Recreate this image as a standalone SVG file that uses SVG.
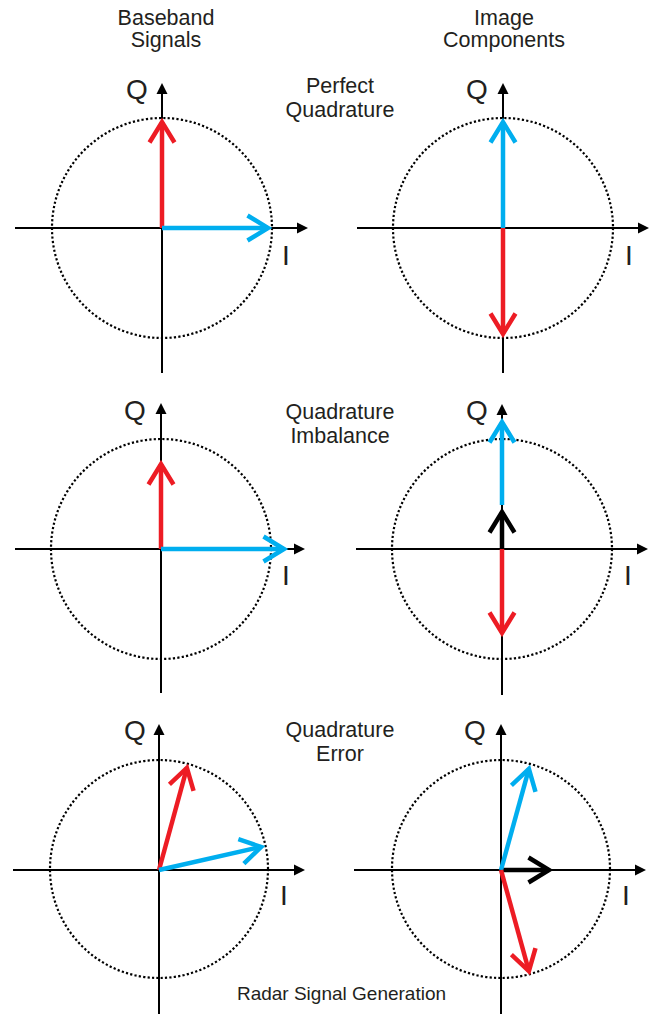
<svg xmlns="http://www.w3.org/2000/svg" width="657" height="1014" viewBox="0 0 657 1014">
<style>
text{font-family:"Liberation Sans",Arial,sans-serif;fill:#231f20}
.t{font-size:21.5px;text-anchor:middle}
.ax{font-size:28px}
.axis{stroke:#000;stroke-width:2;fill:none;marker-end:url(#axh)}
.circ{fill:none;stroke:#000;stroke-width:2.2;stroke-dasharray:2.2 2.2}
.vr{stroke:#ED1C24;stroke-width:4.5;fill:none;marker-end:url(#mr)}
.vb{stroke:#00AEEF;stroke-width:4.5;fill:none;marker-end:url(#mb)}
.vk{stroke:#000;stroke-width:4.5;fill:none;marker-end:url(#mk)}
</style>
<defs>
<marker id="axh" markerUnits="userSpaceOnUse" orient="auto" refX="3" refY="0" markerWidth="20" markerHeight="20" viewBox="-5 -10 20 20" overflow="visible"><path d="M0,-5.5 L11,0 L0,5.5 Z" fill="#000"/></marker>
<marker id="mr" markerUnits="userSpaceOnUse" orient="auto" refX="0" refY="0" markerWidth="40" markerHeight="40" viewBox="-30 -20 40 40" overflow="visible"><path d="M-20.5,-12.5 L0,0 L-20.5,12.5" fill="none" stroke="#ED1C24" stroke-width="4.5"/></marker>
<marker id="mb" markerUnits="userSpaceOnUse" orient="auto" refX="0" refY="0" markerWidth="40" markerHeight="40" viewBox="-30 -20 40 40" overflow="visible"><path d="M-20.5,-12.5 L0,0 L-20.5,12.5" fill="none" stroke="#00AEEF" stroke-width="4.5"/></marker>
<marker id="mk" markerUnits="userSpaceOnUse" orient="auto" refX="0" refY="0" markerWidth="40" markerHeight="40" viewBox="-30 -20 40 40" overflow="visible"><path d="M-20.5,-12.5 L0,0 L-20.5,12.5" fill="none" stroke="#000" stroke-width="4.5"/></marker>
</defs>

<g id="headers">
<text class="t" x="166" y="25">Baseband</text>
<text class="t" x="166" y="47">Signals</text>
<text class="t" x="504" y="25">Image</text>
<text class="t" x="504" y="47">Components</text>
<text class="t" x="340" y="93">Perfect</text>
<text class="t" x="340" y="117">Quadrature</text>
<text class="t" x="340" y="419">Quadrature</text>
<text class="t" x="340" y="443">Imbalance</text>
<text class="t" x="340" y="737">Quadrature</text>
<text class="t" x="340" y="761">Error</text>
<text x="341.5" y="1000" style="font-size:19px;text-anchor:middle">Radar Signal Generation</text>
</g>

<g id="panel1">
<circle class="circ" cx="162" cy="228" r="110"/>
<line class="axis" x1="15" y1="228" x2="300" y2="228"/>
<line class="axis" x1="162" y1="373" x2="162" y2="91"/>
<text class="ax" x="126" y="99">Q</text>
<text class="ax" x="282" y="265">I</text>
<line class="vr" x1="162" y1="228" x2="162" y2="122"/>
<line class="vb" x1="162" y1="228" x2="268" y2="228"/>
</g>

<g id="panel2">
<circle class="circ" cx="503" cy="228" r="110"/>
<line class="axis" x1="357" y1="228" x2="641" y2="228"/>
<line class="axis" x1="503" y1="373" x2="503" y2="91"/>
<text class="ax" x="466" y="99">Q</text>
<text class="ax" x="625" y="265">I</text>
<line class="vb" x1="503" y1="228" x2="503" y2="122"/>
<line class="vr" x1="503" y1="228" x2="503" y2="334"/>
</g>

<g id="panel3">
<circle class="circ" cx="161" cy="549" r="110"/>
<line class="axis" x1="15" y1="549" x2="297" y2="549"/>
<line class="axis" x1="161" y1="693" x2="161" y2="411"/>
<text class="ax" x="124" y="420">Q</text>
<text class="ax" x="282" y="585">I</text>
<line class="vr" x1="161" y1="549" x2="161" y2="464"/>
<line class="vb" x1="161" y1="549" x2="284" y2="549"/>
</g>

<g id="panel4">
<circle class="circ" cx="502" cy="549" r="110"/>
<line class="axis" x1="356" y1="549" x2="640" y2="549"/>
<line class="axis" x1="502" y1="695" x2="502" y2="412"/>
<text class="ax" x="466" y="420">Q</text>
<text class="ax" x="624" y="585">I</text>
<line class="vb" x1="502" y1="505" x2="502" y2="422"/>
<line class="vk" x1="502" y1="549" x2="502" y2="512"/>
<line class="vr" x1="502" y1="549" x2="502" y2="633"/>
</g>

<g id="panel5">
<circle class="circ" cx="159" cy="869" r="109"/>
<line class="axis" x1="13" y1="870" x2="297" y2="870"/>
<line class="axis" x1="159" y1="1014" x2="159" y2="732"/>
<text class="ax" x="124" y="740">Q</text>
<text class="ax" x="280" y="905">I</text>
<line class="vr" x1="159" y1="870" x2="186.9" y2="767.9"/>
<line class="vb" x1="159" y1="870" x2="261.1" y2="846.9"/>
</g>

<g id="panel6">
<circle class="circ" cx="501" cy="869" r="109"/>
<line class="axis" x1="354" y1="870" x2="638" y2="870"/>
<line class="axis" x1="501" y1="1014" x2="501" y2="732"/>
<text class="ax" x="464" y="740">Q</text>
<text class="ax" x="622" y="905">I</text>
<line class="vk" x1="501" y1="870" x2="549" y2="870"/>
<line class="vb" x1="501" y1="870" x2="528.9" y2="768.9"/>
<line class="vr" x1="501" y1="870" x2="528.9" y2="971.1"/>
</g>
</svg>
